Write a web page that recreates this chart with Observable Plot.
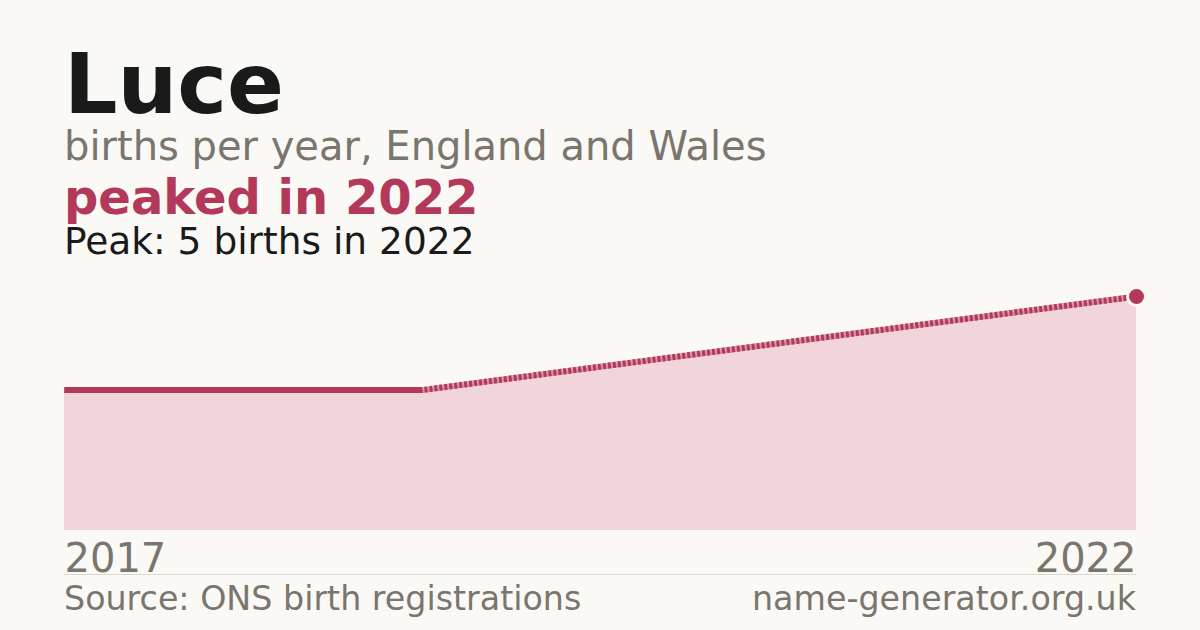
<!DOCTYPE html>
<html>
<head>
<meta charset="utf-8">
<script src="https://cdn.jsdelivr.net/npm/d3@7"></script>
<script src="https://cdn.jsdelivr.net/npm/@observablehq/plot@0.6"></script>
<style>
  html, body { margin: 0; padding: 0; background: #faf9f5; }
  body { width: 1200px; height: 630px; position: relative; overflow: hidden; font-family: "DejaVu Sans", sans-serif; }
  .t { position: absolute; left: 64px; line-height: 0.75; white-space: nowrap; }
  #chart { position: absolute; left: 0; top: 270px; width: 1200px; }
  #rule { position: absolute; left: 64px; width: 1072px; top: 574px; height: 1px; background: #dcd8d0; }
</style>
</head>
<body>
<div class="t" style="top:52.7px;font-size:84px;font-weight:bold;color:#1a1a1a;">Luce</div>
<div class="t" style="top:131.2px;font-size:40px;color:#7a756d;">births per year, England and Wales</div>
<div class="t" style="top:179.4px;font-size:48px;font-weight:bold;color:#b3395a;">peaked in 2022</div>
<div class="t" style="top:226.5px;font-size:37.5px;color:#1a1a1a;">Peak: 5 births in 2022</div>
<div id="chart"></div>
<div id="rule"></div>
<div class="t" style="top:587px;font-size:33.3px;color:#7a756d;">Source: ONS birth registrations</div>
<div class="t" style="top:587px;left:auto;right:64px;font-size:33.3px;color:#7a756d;">name-generator.org.uk</div>
<script>
// data
const steps = [0, 1, 2, 3];
const years = ["2017", "2018", "2021", "2022"];
const births = [3, 3, null, 5];
const tickLabels = ["2017", "2022"];

const crimson = "#b3395a";
const rows = steps.map((s, i) => ({ s, year: years[i], births: births[i] }));
const known = rows.filter(d => d.births != null);
const peak = known.reduce((a, b) => (b.births > a.births ? b : a));
const first = rows[0], last = rows[rows.length - 1];

const chart = Plot.plot({
  width: 1200,
  height: 310,
  marginLeft: 64,
  marginRight: 64,
  marginTop: 26,
  marginBottom: 50,
  style: { background: "transparent", fontFamily: "DejaVu Sans, sans-serif", overflow: "visible", maxWidth: "none" },
  x: { domain: [0, 3], axis: null },
  y: { domain: [0, 5], axis: null },
  marks: [
    Plot.areaY(known, { x: "s", y: "births", fill: "#f2d5da" }),
    Plot.lineY(known, { x: "s", y: "births", stroke: crimson, strokeOpacity: 0.45, strokeWidth: 6, strokeLinecap: "butt" }),
    Plot.lineY(known, { x: "s", y: "births", stroke: crimson, strokeWidth: 6, strokeDasharray: "3,2", strokeLinecap: "butt" }),
    Plot.lineY(rows, { x: "s", y: "births", stroke: crimson, strokeWidth: 6, strokeLinecap: "butt" }),
    Plot.dot([peak], { x: "s", y: "births", r: 9, fill: crimson, stroke: "#faf9f5", strokeWidth: 3 }),
    Plot.text([first], { x: "s", frameAnchor: "bottom", text: () => tickLabels[0], textAnchor: "start", lineAnchor: "bottom", dy: 41, fontSize: 40, fill: "#7a756d" }),
    Plot.text([last], { x: "s", frameAnchor: "bottom", text: () => tickLabels[1], textAnchor: "end", lineAnchor: "bottom", dy: 41, fontSize: 40, fill: "#7a756d" })
  ]
});
document.getElementById("chart").appendChild(chart);
</script>
</body>
</html>
